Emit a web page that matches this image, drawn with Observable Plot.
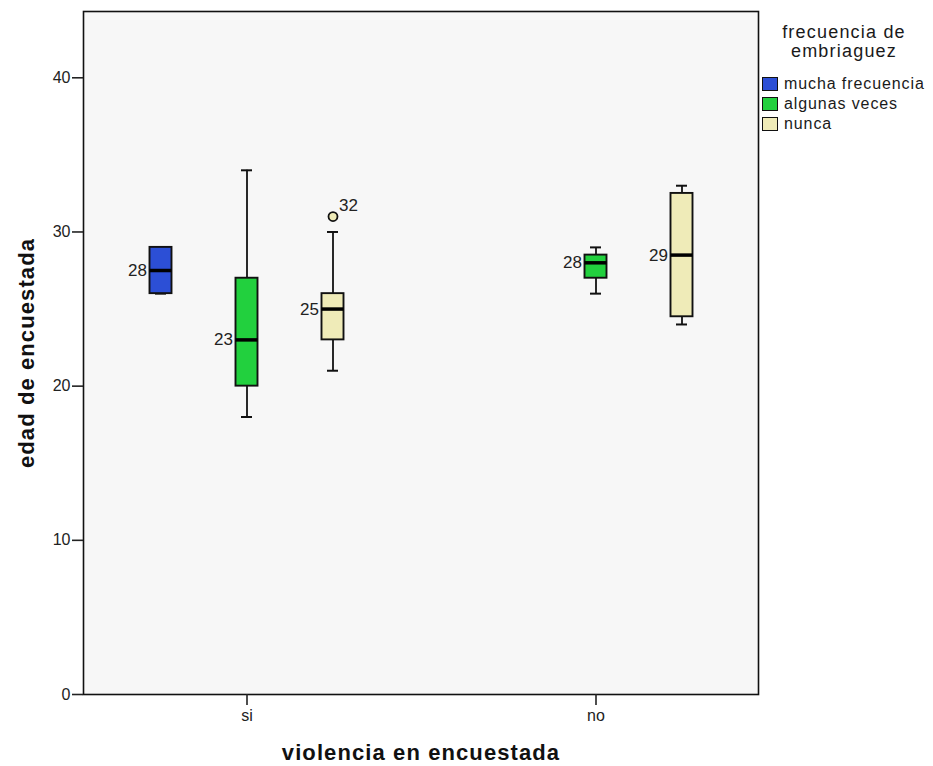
<!DOCTYPE html>
<html><head><meta charset="utf-8">
<script src="https://cdn.jsdelivr.net/npm/d3@7"></script>
<script src="https://cdn.jsdelivr.net/npm/@observablehq/plot@0.6"></script>
<style>
body{margin:0;background:#fff;}
#wrap{position:relative;width:933px;height:766px;font-family:"Liberation Sans",Arial,sans-serif;}
#legend{position:absolute;left:762px;top:23px;color:#1a1a1a;}
#legend .title{width:164px;text-align:center;font-size:18px;line-height:19px;letter-spacing:1.2px;margin-bottom:13px;}
#legend .row{display:flex;align-items:center;height:20px;font-size:16px;letter-spacing:0.9px;}
#legend .sw{width:14px;height:12px;border:1.6px solid #111;margin-right:6px;}
</style></head><body><div id="wrap"></div>
<script>
// ---- data ----
const violencia = ["si", "no"];
const frecuencias = ["mucha frecuencia", "algunas veces", "nunca"];
const boxGroup = ["si", "si", "si", "no", "no"];
const boxFreq = ["mucha frecuencia", "algunas veces", "nunca", "algunas veces", "nunca"];
const boxMin = [26, 18, 21, 26, 24];
const boxQ1 = [26, 20, 23, 27, 24.5];
const boxMedian = [27.5, 23, 25, 28, 28.5];
const boxQ3 = [29, 27, 26, 28.5, 32.5];
const boxMax = [29, 34, 30, 29, 33];
const medianLabels = ["28", "23", "25", "28", "29"];
const outlierGroup = ["si"];
const outlierFreq = ["nunca"];
const outlierValue = [31];
const outlierCase = ["32"];
const yTicks = [0, 10, 20, 30, 40];
const legendTitle = ["frecuencia de", "embriaguez"];
const xTitle = "violencia en encuestada";
const yTitle = "edad de encuestada";
const freqColors = ["#2c4fd6", "#22d03e", "#efebb8"];

// ---- layout ----
const W = 933, H = 766, mL = 83, mR = 175, mT = 11, mB = 72;
const xOpts = {paddingInner: 0.5, paddingOuter: 0.2143, align: 0.503};
const band = d3.scaleBand().domain(violencia).range([mL, W - mR])
  .paddingInner(xOpts.paddingInner).paddingOuter(xOpts.paddingOuter).align(xOpts.align);
const bw = band.bandwidth();
const boxW = 22, capW = 11;
const inBox = (bw - boxW) / 2, inCap = (bw - capW) / 2;
const offset = d3.scalePoint().domain(frecuencias).range([-86, 86]);

const boxes = boxGroup.map((g, i) => ({
  group: g, freq: boxFreq[i], min: boxMin[i], q1: boxQ1[i], median: boxMedian[i],
  q3: boxQ3[i], max: boxMax[i], label: medianLabels[i]
}));
const outliers = outlierGroup.map((g, i) => ({group: g, freq: outlierFreq[i], value: outlierValue[i], id: outlierCase[i]}));

const ink = "#111";
const marks = [Plot.frame({fill: "#f7f7f7"})];
for (const f of frecuencias) {
  const d = boxes.filter(b => b.freq === f);
  const dx = offset(f);
  marks.push(
    Plot.ruleX(d, {x: "group", y1: "q3", y2: "max", dx, stroke: ink, strokeWidth: 1.8}),
    Plot.ruleX(d, {x: "group", y1: "min", y2: "q1", dx, stroke: ink, strokeWidth: 1.8}),
    Plot.tickY(d, {x: "group", y: "max", dx, stroke: ink, strokeWidth: 2, insetLeft: inCap, insetRight: inCap}),
    Plot.tickY(d, {x: "group", y: "min", dx, stroke: ink, strokeWidth: 2, insetLeft: inCap, insetRight: inCap}),
    Plot.barY(d, {x: "group", y1: "q1", y2: "q3", fill: "freq", stroke: ink, strokeWidth: 1.9, insetLeft: inBox, insetRight: inBox, dx}),
    Plot.tickY(d, {x: "group", y: "median", dx, stroke: "#000", strokeWidth: 3.5, insetLeft: inBox, insetRight: inBox}),
    Plot.text(d, {x: "group", y: "median", text: "label", textAnchor: "end", dx: dx - boxW / 2 - 3, fontSize: 17, fill: "#222"})
  );
  const o = outliers.filter(p => p.freq === f);
  if (o.length) {
    marks.push(
      Plot.dot(o, {x: "group", y: "value", dx, r: 4.5, fill: "freq", stroke: ink, strokeWidth: 1.8}),
      Plot.text(o, {x: "group", y: "value", text: "id", textAnchor: "start", dx: dx + 6, dy: -11, fontSize: 17, fill: "#222"})
    );
  }
}
marks.push(
  Plot.frame({stroke: ink, strokeWidth: 1.6}),
  Plot.axisY({ticks: yTicks, tickSize: 11, tickPadding: 2, fontSize: 16, strokeWidth: 1.6, color: "#222", label: null}),
  Plot.axisX({tickSize: 11, tickPadding: 4, fontSize: 16, strokeWidth: 1.6, color: "#222", label: null}),
  Plot.text([yTitle], {text: d => d, frameAnchor: "left", dx: -57, rotate: -90, textAnchor: "middle", lineAnchor: "middle", fontSize: 22, fontWeight: "bold", fill: "#111"}),
  Plot.text([xTitle], {text: d => d, frameAnchor: "bottom", dy: 58, textAnchor: "middle", lineAnchor: "middle", fontSize: 22, fontWeight: "bold", fill: "#111"})
);

const chart = Plot.plot({
  width: W, height: H,
  marginLeft: mL, marginRight: mR, marginTop: mT, marginBottom: mB,
  style: {fontSize: "16px", fontFamily: '"Liberation Sans", Arial, sans-serif', background: "white", color: "#222"},
  x: {domain: violencia, ...xOpts},
  y: {domain: [0, 44.3]},
  color: {domain: frecuencias, range: freqColors},
  marks
});
const svg = d3.select(chart);
svg.selectAll("text").filter(function() {
  const t = this.textContent; return t === xTitle || t === yTitle;
}).style("letter-spacing", "1.1px");
document.getElementById("wrap").appendChild(chart);

// legend
const color = chart.scale("color");
const lg = document.createElement("div");
lg.id = "legend";
lg.innerHTML = `<div class="title">${legendTitle.join("<br>")}</div>` +
  frecuencias.map(f => `<div class="row"><span class="sw" style="background:${color.apply(f)}"></span>${f}</div>`).join("");
document.getElementById("wrap").appendChild(lg);
</script></body></html>
